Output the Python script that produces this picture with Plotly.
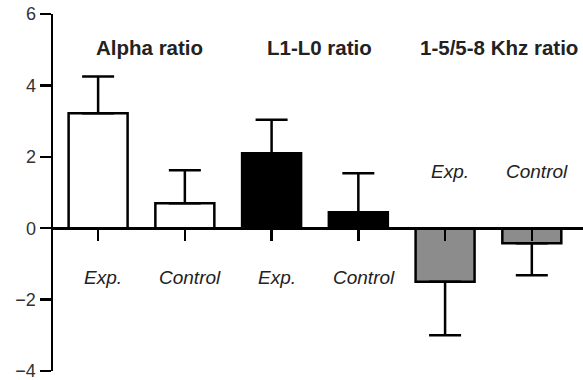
import plotly.graph_objects as go

categories = ["Alpha Exp.", "Alpha Control", "L1-L0 Exp.", "L1-L0 Control", "Khz Exp.", "Khz Control"]
values = [3.22, 0.70, 2.10, 0.45, -1.50, -0.42]
errors = [1.03, 0.92, 0.94, 1.09, 1.50, 0.90]
fills = ["#ffffff", "#ffffff", "#000000", "#000000", "#8c8c8c", "#8c8c8c"]
bar_labels = ["Exp.", "Control", "Exp.", "Control", "Exp.", "Control"]
label_y = [-1.37, -1.37, -1.37, -1.37, 1.58, 1.58]
group_titles = ["Alpha ratio", "L1-L0 ratio", "1-5/5-8 Khz ratio"]
title_x = [0.59, 2.55, 4.62]
title_y = 5.05
y_ticks = [-4, -2, 0, 2, 4, 6]

xs = list(range(len(categories)))
plus = [e if v >= 0 else 0 for v, e in zip(values, errors)]
minus = [0 if v >= 0 else e for v, e in zip(values, errors)]

fig = go.Figure()
fig.add_trace(go.Bar(
    x=xs, y=values, width=0.68,
    marker=dict(color=fills, line=dict(color="#000000", width=2.5)),
    error_y=dict(type="data", symmetric=False, array=plus, arrayminus=minus,
                 color="#000000", thickness=2.5, width=16),
    hoverinfo="skip",
))

font_family = "Arial, Liberation Sans, sans-serif"
for x, lab, ly in zip(xs, bar_labels, label_y):
    fig.add_annotation(x=x + 0.06, y=ly, text=f"<i>{lab}</i>", showarrow=False,
                       font=dict(family=font_family, size=19, color="#222222"))
for tx, t in zip(title_x, group_titles):
    fig.add_annotation(x=tx, y=title_y, text=f"<b>{t}</b>", showarrow=False,
                       font=dict(family=font_family, size=20.5, color="#222222"))

fig.update_layout(
    width=583, height=380,
    margin=dict(l=53, r=0, t=14, b=9),
    paper_bgcolor="#ffffff", plot_bgcolor="#ffffff",
    showlegend=False,
    font=dict(family=font_family, size=18, color="#333333"),
    xaxis=dict(range=[-0.52, 5.59], anchor="free", position=0.4,
               showline=True, linecolor="#000000", linewidth=2.5,
               tickmode="array", tickvals=xs, ticks="outside", ticklen=11,
               tickwidth=2.5, tickcolor="#000000", showticklabels=False,
               showgrid=False, zeroline=False, layer="above traces"),
    yaxis=dict(range=[-4, 6], tickmode="array", tickvals=y_ticks,
               ticktext=[str(v).replace("-", "\u2212") for v in y_ticks],
               showline=True, linecolor="#000000", linewidth=2.5,
               ticks="outside", ticklen=11, tickwidth=2.5, tickcolor="#000000",
               showgrid=False, zeroline=False, automargin=False,
               ticklabeloverflow="allow",
               tickfont=dict(family=font_family, size=18, color="#333333")),
)

# remove the page's default 8px body margin so the figure fills the window
fig.write_html("out.html",
               config={"displayModeBar": False, "staticPlot": True},
               post_script="document.body.style.margin='0';document.body.style.overflow='hidden';")
